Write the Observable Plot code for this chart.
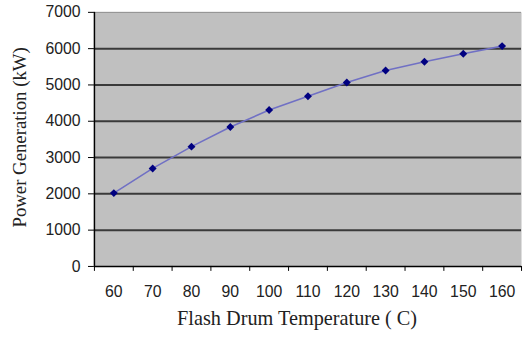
<!DOCTYPE html>
<html>
<head>
<meta charset="utf-8">
<script src="https://cdn.jsdelivr.net/npm/d3@7"></script>
<script src="https://cdn.jsdelivr.net/npm/@observablehq/plot@0.6"></script>
<style>
  html, body { margin: 0; padding: 0; background: #fff; overflow: hidden; width: 524px; height: 341px; }
</style>
</head>
<body>
<div id="chart"></div>
<script>
const temps = [60, 70, 80, 90, 100, 110, 120, 130, 140, 150, 160];
const power = [2020, 2700, 3300, 3840, 4310, 4690, 5070, 5400, 5640, 5860, 6070];
const yTicks = [0, 1000, 2000, 3000, 4000, 5000, 6000, 7000];
const gridTicks = [1000, 2000, 3000, 4000, 5000, 6000];
const xLabel = "Flash Drum Temperature ( C)";
const yLabel = "Power Generation (kW)";

const data = temps.map((t, i) => ({t, p: power[i]}));
const boundaries = temps.map(t => t - 5).concat([temps[temps.length - 1] + 5]);
const serif = "'Liberation Serif', 'Times New Roman', serif";

const chart = Plot.plot({
  width: 530,
  height: 341,
  marginLeft: 95,
  marginRight: 3,
  marginTop: 12,
  marginBottom: 72,
  style: {background: "#fff", fontFamily: "'Liberation Sans', Arial, sans-serif", fontSize: "16px", color: "#000"},
  x: {domain: [55, 165], axis: null},
  y: {domain: [0, 7000], axis: null},
  marks: [
    Plot.frame({fill: "#c0c0c0", stroke: null}),
    Plot.ruleY(gridTicks, {stroke: "#3a3a3a", strokeWidth: 2}),
    Plot.ruleY([7000], {stroke: "#8a8a8a", strokeWidth: 1}),
    Plot.ruleY([0], {stroke: "#000", strokeWidth: 1.5}),
    Plot.ruleX([55], {stroke: "#000", strokeWidth: 1.5}),
    Plot.axisY({ticks: yTicks, tickSize: 6, tickPadding: 8, tickFormat: d => String(d), label: null, fontSize: 16, stroke: "#000", fill: "#222"}),
    Plot.axisX({ticks: boundaries, tickSize: 5, tickFormat: () => "", label: null, stroke: "#000"}),
    Plot.axisX({ticks: temps, tickSize: 0, tickPadding: 20, tickFormat: d => String(d), label: null, fontSize: 16, fill: "#222"}),
    Plot.line(data, {x: "t", y: "p", stroke: "#7070c4", strokeWidth: 1.6}),
    Plot.dot(data, {x: "t", y: "p", symbol: "square", rotate: 45, r: 3.2, fill: "#000080", stroke: null}),
    Plot.text([yLabel], {frameAnchor: "left", textAnchor: "middle", dx: -75, dy: -2, rotate: -90, text: d => d, fontFamily: serif, fontSize: 19, fill: "#222"}),
    Plot.text([xLabel], {frameAnchor: "bottom", textAnchor: "middle", dy: 59, dx: -11, text: d => d, fontFamily: serif, fontSize: 20.5, fill: "#222"})
  ]
});
document.getElementById("chart").appendChild(chart);
</script>
</body>
</html>
